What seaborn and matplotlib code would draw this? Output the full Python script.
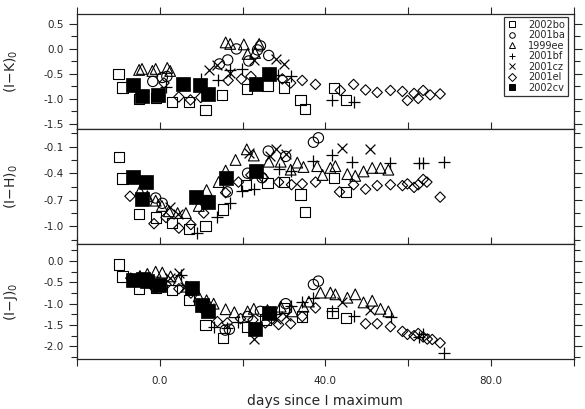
import pandas as pd
import seaborn as sns
import matplotlib.pyplot as plt
from matplotlib.lines import Line2D
from matplotlib.ticker import MultipleLocator, FuncFormatter

names = ['2002bo', '2001ba', '1999ee', '2001bf', '2001cz', '2001el', '2002cv']

# ---- (I-K)0 panel ----
bo_k_t = [-10, -9, -5, -1, 3, 7, 11, 15, 21, 26, 30, 34, 35, 42, 45]
bo_k = [-0.5, -0.77, -1.0, -0.98, -1.06, -1.06, -1.22, -0.92, -0.8, -0.73, -0.77, -1.02, -1.2, -0.78, -1.02]
ba_k_t = [-1.7, 0.6, 1.7, 14.4, 16.4, 18.5, 21.5, 23.6, 24.3, 26.3]
ba_k = [-0.65, -0.57, -0.55, -0.3, -0.22, 0.0, -0.24, -0.02, 0.06, -0.13]
ee_k_t = [-5, -4.3, -1.8, -1, 1.8, 2.5, 15.9, 17, 20.3, 21.2, 23, 24]
ee_k = [-0.42, -0.4, -0.44, -0.4, -0.38, -0.44, 0.13, 0.1, 0.09, -0.1, -0.08, 0.1]
bf_k_t = [1.6, 9.9, 14, 17, 19.8, 28.5, 31.6, 41.7, 46.8]
bf_k = [-0.77, -0.6, -0.63, -0.43, -0.41, -0.53, -0.54, -1.03, -1.07]
cz_k_t = [12, 13.7, 16.9, 22.7, 28, 30]
cz_k = [-0.43, -0.32, -0.48, -0.22, -0.2, -0.3]
el_k_t = [1, 4.6, 7.4, 9.9, 16.5, 19.7, 22, 26.7, 29.6, 31.6, 34.4, 37.6, 43.6, 46.8,
          49.7, 52.5, 55.7, 58.6, 59.8, 61.4, 62.4, 63.6, 65.3, 67.7]
el_k = [-0.68, -0.96, -1.02, -0.97, -0.63, -0.6, -0.55, -0.53, -0.6, -0.68, -0.63, -0.71, -0.83, -0.71,
        -0.82, -0.87, -0.83, -0.85, -1.03, -0.89, -0.99, -0.83, -0.92, -0.9]
cv_k_t = [-6.5, -4.3, -0.4, 5.7, 9.7, 11.6, 23.3, 26.3]
cv_k = [-0.72, -0.95, -0.93, -0.7, -0.72, -0.91, -0.7, -0.5]

# ---- (I-H)0 panel ----
bo_h_t = [-9.8, -9, -5, -1, 3, 7, 11, 15.2, 20.8, 26, 30, 34, 35, 42, 45]
bo_h = [-0.22, -0.46, -0.86, -0.9, -0.96, -1.03, -1.0, -0.81, -0.53, -0.51, -0.5, -0.64, -0.84, -0.45, -0.61]
ba_h_t = [-1, 0.6, 16.3, 21.2, 24.7, 26.2, 30.4, 37.1, 38.3]
ba_h = [-0.68, -0.74, -0.61, -0.4, -0.45, -0.15, -0.21, -0.05, 0.0]
ee_h_t = [-4.8, -3, -1, 0.5, 2.2, 4.3, 6.3, 9.4, 11.3, 14.2, 15.9, 18.3, 21, 22.7, 26.3, 29.2, 31.6,
          33.2, 34.7, 38, 39.3, 41.2, 42.4, 45.3, 47.2, 49.2, 51.3, 53.3, 55.2]
ee_h = [-0.6, -0.66, -0.71, -0.77, -0.83, -0.85, -0.85, -0.77, -0.59, -0.5, -0.37, -0.25, -0.13, -0.2,
        -0.27, -0.27, -0.36, -0.28, -0.33, -0.32, -0.42, -0.34, -0.32, -0.41, -0.43, -0.38, -0.34, -0.34, -0.36]
bf_h_t = [9.1, 13.9, 17, 19.8, 22.7, 28.7, 31.6, 36.9, 41.7, 46.5, 55.7, 62.5, 63.6, 68.7]
bf_h = [-1.08, -0.9, -0.74, -0.6, -0.58, -0.35, -0.38, -0.26, -0.19, -0.27, -0.29, -0.29, -0.28, -0.27]
cz_h_t = [2.5, 4.5, 21.5, 26.5, 28, 30.4, 44, 50.8]
cz_h = [-0.78, -0.86, -0.17, -0.2, -0.13, -0.18, -0.12, -0.13]
el_h_t = [-7.2, -1.4, 1.5, 4.6, 7.5, 10.6, 15.9, 19, 22, 25, 28.7, 31.8, 34.4, 37.6, 43.4, 46.8,
          49.7, 52.5, 55.7, 58.6, 59.8, 61.4, 62.4, 63.6, 64.5, 67.7]
el_h = [-0.66, -0.97, -0.9, -1.02, -0.98, -0.85, -0.62, -0.5, -0.42, -0.45, -0.5, -0.53, -0.52, -0.5,
        -0.61, -0.53, -0.58, -0.54, -0.53, -0.54, -0.52, -0.56, -0.53, -0.47, -0.5, -0.67]
cv_h_t = [-6.5, -3.4, -4.2, 8.8, 11.6, 16.1, 23.3]
cv_h = [-0.44, -0.5, -0.69, -0.67, -0.72, -0.45, -0.37]

# ---- (I-J)0 panel ----
bo_j_t = [-9.8, -9, -5, -1, 3, 7, 11, 15.2, 21, 25.5, 30, 34.4, 41.7, 45]
bo_j = [-0.08, -0.36, -0.66, -0.62, -0.68, -0.92, -1.5, -1.8, -1.55, -1.37, -1.1, -1.3, -1.22, -1.33]
ba_j_t = [-1, 0.6, 15.8, 16.8, 21.2, 24.3, 30.4, 37.1, 38.3]
ba_j = [-0.62, -0.6, -1.62, -1.6, -1.3, -1.18, -1.0, -0.55, -0.47]
ee_j_t = [-4.8, -3, -1, 0.6, 2.6, 4.5, 6.5, 9.4, 11.3, 13, 15.9, 18, 21.2, 22.7, 26, 29.2, 32, 34.7,
          36, 38.8, 41.2, 42.4, 45.3, 47.2, 49.2, 51.3, 53.3, 55.2]
ee_j = [-0.35, -0.3, -0.25, -0.27, -0.36, -0.45, -0.6, -0.83, -0.92, -1.0, -1.13, -1.2, -1.18, -1.12,
        -1.15, -1.07, -1.18, -1.07, -0.95, -0.74, -0.74, -0.78, -0.86, -0.78, -0.97, -0.93, -1.12, -1.18]
bf_j_t = [5, 13, 16.3, 19, 28, 31.6, 34.4, 37.1, 41.7, 46.8, 55.9, 62.6, 63.6, 68.7]
bf_j = [-0.33, -1.55, -1.58, -1.43, -1.25, -1.05, -0.95, -0.86, -1.18, -1.3, -1.32, -1.78, -1.7, -2.15]
cz_j_t = [2.5, 4.6, 6, 12, 22.7, 28, 30.4, 44, 50.8]
cz_j = [-0.4, -0.28, -0.6, -1.1, -1.82, -1.35, -1.3, -0.95, -1.15]
el_j_t = [-7, -1.4, 1.5, 4.6, 7.5, 10.6, 13.9, 16.3, 19.5, 22.5, 25.5, 28.7, 31.6, 34.4, 37.6,
          49.7, 52.5, 55.7, 58.6, 59.8, 61.4, 62.4, 63.6, 64.6, 65.8, 67.7]
el_j = [-0.4, -0.62, -0.55, -0.65, -0.75, -1.15, -1.42, -1.45, -1.35, -1.38, -1.45, -1.49, -1.47, -1.3,
        -1.1, -1.47, -1.47, -1.54, -1.65, -1.72, -1.75, -1.7, -1.78, -1.83, -1.84, -1.92]
cv_j_t = [-6.5, -4.1, -3, -0.3, 7.7, 10.3, 11.6, 23.1, 26.3]
cv_j = [-0.45, -0.42, -0.46, -0.56, -0.62, -1.04, -1.18, -1.6, -1.22]

panels = [
    ('(I$-$K)$_0$', (-1.6, 0.7), 0.5, 0.25, 0.0, 0.0,
     [(bo_k_t, bo_k), (ba_k_t, ba_k), (ee_k_t, ee_k), (bf_k_t, bf_k), (cz_k_t, cz_k), (el_k_t, el_k), (cv_k_t, cv_k)]),
    ('(I$-$H)$_0$', (-1.2, 0.1), 0.3, 0.15, 0.2, 0.05,
     [(bo_h_t, bo_h), (ba_h_t, ba_h), (ee_h_t, ee_h), (bf_h_t, bf_h), (cz_h_t, cz_h), (el_h_t, el_h), (cv_h_t, cv_h)]),
    ('(I$-$J)$_0$', (-2.3, 0.4), 0.5, 0.25, 0.0, 0.0,
     [(bo_j_t, bo_j), (ba_j_t, ba_j), (ee_j_t, ee_j), (bf_j_t, bf_j), (cz_j_t, cz_j), (el_j_t, el_j), (cv_j_t, cv_j)]),
]

# marker, size, filled?  ('line' = unfilled marker like + or x)
styles = {
    '2002bo': ('s', 55, 'open'),
    '2001ba': ('o', 55, 'open'),
    '1999ee': ('^', 60, 'open'),
    '2001bf': ('+', 75, 'line'),
    '2001cz': ('x', 50, 'line'),
    '2001el': ('D', 28, 'open'),
    '2002cv': ('s', 100, 'filled'),
}

sns.set_style('ticks')
plt.rcParams['font.family'] = ['DejaVu Sans']

fig, axes = plt.subplots(3, 1, figsize=(5.85, 4.09), dpi=100, sharex=True)
fig.subplots_adjust(left=0.1316, right=0.981, bottom=0.122, top=0.966, hspace=0)

for ax, (ylab, ylim, major, minor, moff, mnoff, data) in zip(axes, panels):
    for name, (t, v) in zip(names, data):
        df = pd.DataFrame({'day': t, 'col': v})
        m, s, kind = styles[name]
        if kind == 'open':
            sns.scatterplot(data=df, x='day', y='col', ax=ax, marker=m, s=s,
                            facecolor='none', edgecolor='black', linewidth=0.8)
        elif kind == 'filled':
            sns.scatterplot(data=df, x='day', y='col', ax=ax, marker=m, s=s,
                            color='black', edgecolor='black', linewidth=0.5)
        else:
            sns.scatterplot(data=df, x='day', y='col', ax=ax, marker=m, s=s,
                            color='black', linewidth=0.9)
    ax.set_xlim(-20, 100)
    ax.set_ylim(*ylim)
    ax.yaxis.set_major_locator(MultipleLocator(major, offset=moff))
    ax.yaxis.set_minor_locator(MultipleLocator(minor, offset=mnoff))
    ax.yaxis.set_major_formatter(FuncFormatter(lambda val, p: f'{val:.1f}'))
    ax.xaxis.set_major_locator(MultipleLocator(20))
    ax.xaxis.set_major_formatter(FuncFormatter(lambda val, p: f'{val:.1f}' if round(val) % 40 == 0 else ''))
    ax.tick_params(axis='x', which='both', direction='out', top=True, bottom=True,
                   length=5, width=0.8, labelsize=7.5, pad=7)
    ax.tick_params(axis='y', which='major', direction='out', left=True, right=True,
                   length=6, width=0.8, labelsize=7.5)
    ax.tick_params(axis='y', which='minor', direction='out', left=True, right=True,
                   length=4, width=0.8)
    for sp in ax.spines.values():
        sp.set_linewidth(0.9)
    ax.set_ylabel(ylab, fontsize=10)
    ax.yaxis.set_label_coords(-0.115, 0.5)
    ax.set_xlabel('')

axes[-1].set_xlabel('days since I maximum', fontsize=10, labelpad=6)

handles = []
for name in names:
    m, s, kind = styles[name]
    fc = 'black' if kind == 'filled' else 'none'
    handles.append(Line2D([], [], linestyle='none', marker=m, markersize=4 if kind != 'filled' else 5,
                          markerfacecolor=fc, markeredgecolor='black', color='black', markeredgewidth=0.7))
leg = axes[0].legend(handles, names, loc='upper right', bbox_to_anchor=(0.988, 0.974), fontsize=7,
                     frameon=True, fancybox=False, edgecolor='black', borderpad=0.3,
                     labelspacing=0.05, handletextpad=1.2, handlelength=1.0, borderaxespad=0)
leg.get_frame().set_linewidth(0.9)

fig.savefig('out.png', dpi=100)
